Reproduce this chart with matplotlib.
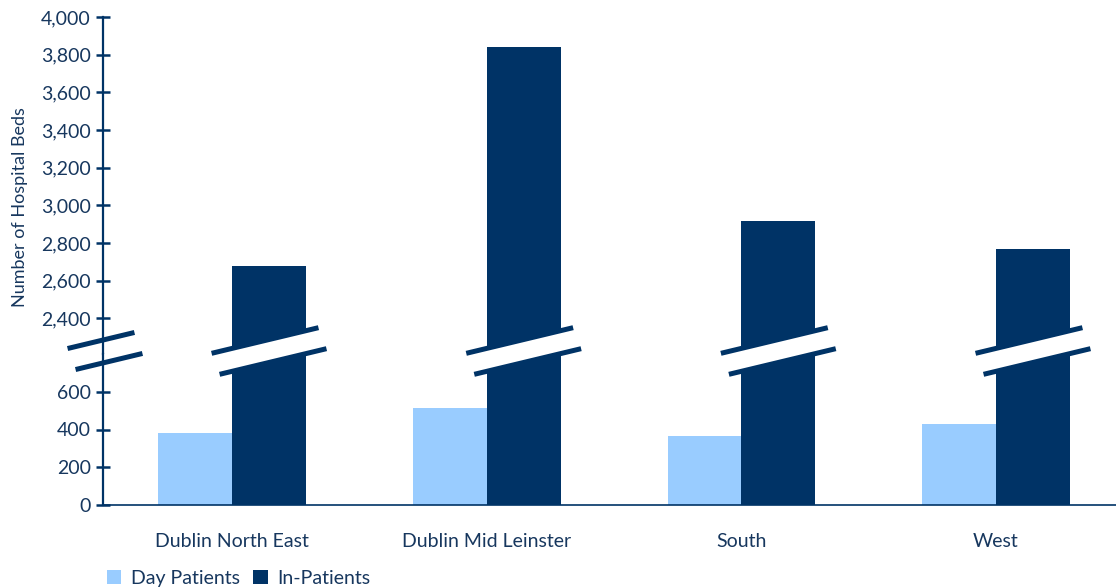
import matplotlib.pyplot as plt
from matplotlib.lines import Line2D
from matplotlib.patches import Polygon
import numpy as np

plt.rcParams['font.family'] = ['Lato', 'DejaVu Sans']

regions = ["Dublin North East", "Dublin Mid Leinster", "South", "West"]
day_patients = [383, 515, 367, 430]
in_patients = [2675, 3838, 2915, 2767]
low_ticks = [0, 200, 400, 600]
high_ticks = [2400, 2600, 2800, 3000, 3200, 3400, 3600, 3800, 4000]

navy = "#003366"
light = "#99CCFF"
text_col = "#17375E"

W, H = 1116, 587
fig = plt.figure(figsize=(W / 100, H / 100), dpi=100)

left = 103 / W
ax_hi = fig.add_axes([left, 1 - 354 / H, 1 - left, (354 - 17) / H])
ax_lo = fig.add_axes([left, 1 - 505 / H, 1 - left, (505 - 354) / H])

x = np.arange(len(regions))
w = 0.29
for ax in (ax_hi, ax_lo):
    ax.bar(x - w / 2, day_patients, w, color=light, label="Day Patients")
    ax.bar(x + w / 2, in_patients, w, color=navy, label="In-Patients")
    ax.set_xlim(-0.507, 3.471)
    for s in ("top", "right"):
        ax.spines[s].set_visible(False)
    ax.spines["left"].set_color(navy)
    ax.spines["left"].set_linewidth(1.6)
    ax.tick_params(axis="y", direction="inout", length=9.5, width=1.8,
                   color=navy, labelcolor=text_col, labelsize=14, pad=4)

ax_hi.set_ylim(2210, 4000)
ax_hi.set_yticks(high_ticks)
ax_hi.set_yticklabels([f"{v:,}" for v in high_ticks])
ax_hi.spines["bottom"].set_visible(False)
ax_hi.set_xticks([])

ax_lo.set_ylim(0, 800)
ax_lo.set_yticks(low_ticks)
ax_lo.set_yticklabels([f"{v:,}" for v in low_ticks])
ax_lo.spines["bottom"].set_color(navy)
ax_lo.spines["bottom"].set_linewidth(1.2)
ax_lo.set_xticks(x)
ax_lo.set_xticklabels(regions)
ax_lo.tick_params(axis="x", length=0, labelcolor=text_col, labelsize=14, pad=20)

fig.text(20 / W, 1 - 207 / H, "Number of Hospital Beds", rotation=90,
         ha="center", va="center", color=text_col, fontsize=13)


# break marks (image pixel coords, y from top)
def break_mark(cx, cy, half, band=True):
    s = 0.24
    d = 10.5
    sh = 4
    up = [(cx - half - sh, cy - d + s * half), (cx + half - sh, cy - d - s * half)]
    dn = [(cx - half + sh, cy + d + s * half), (cx + half + sh, cy + d - s * half)]
    to_fig = lambda p: (p[0] / W, 1 - p[1] / H)
    if band:
        poly = [to_fig(p) for p in (up[0], up[1], dn[1], dn[0])]
        fig.add_artist(Polygon(poly, closed=True, facecolor="white",
                               edgecolor="none", transform=fig.transFigure))
    for seg in (up, dn):
        pts = [to_fig(p) for p in seg]
        fig.add_artist(Line2D([pts[0][0], pts[1][0]], [pts[0][1], pts[1][1]],
                              color=navy, lw=3.6, transform=fig.transFigure))


cy = 351
break_mark(105, cy, 31, band=False)
for xc in x + w / 2:
    px = ax_lo.transData.transform((xc, 0))[0]
    break_mark(px, cy, 51)

handles, labels = ax_lo.get_legend_handles_labels()
fig.legend(handles, labels, loc="lower left", bbox_to_anchor=(89 / W, -0.03),
           ncol=2, frameon=False, fontsize=14, handlelength=0.75, handleheight=0.75,
           handletextpad=0.5, columnspacing=0.7, labelcolor=text_col)

fig.savefig("out.png", dpi=100)
